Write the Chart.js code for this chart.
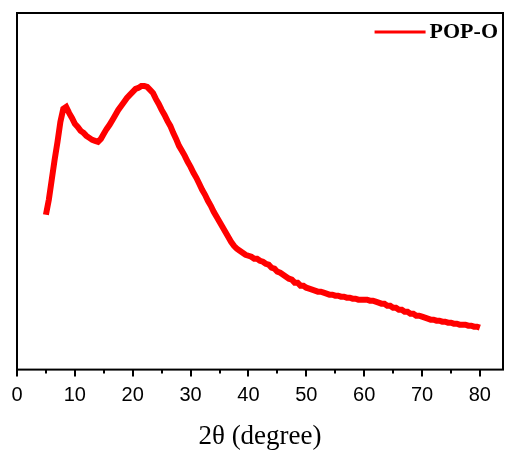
<!DOCTYPE html>
<html>
<head>
<meta charset="utf-8">
<script src="https://cdn.jsdelivr.net/npm/chart.js@4/dist/chart.umd.min.js"></script>
<style>
  html, body { margin: 0; padding: 0; background: #fff; }
  #wrap { width: 507px; height: 453px; }
</style>
</head>
<body>
<div id="wrap"><canvas id="xrd"></canvas></div>
<script>
// 2theta positions (degree)
const twoTheta = [
  5, 5.5, 6, 6.5, 7, 7.5, 8, 8.5, 9, 9.5,
  10, 10.5, 11, 11.5, 12, 12.5, 13, 13.5, 14, 14.5,
  15, 15.5, 16, 16.5, 17, 17.5, 18, 18.5, 19, 19.5,
  20, 20.5, 21, 21.5, 22, 22.5, 23, 23.5, 24, 24.5,
  25, 25.5, 26, 26.5, 27, 27.5, 28, 28.5, 29, 29.5,
  30, 30.5, 31, 31.5, 32, 32.5, 33, 33.5, 34, 34.5,
  35, 35.5, 36, 36.5, 37, 37.5, 38, 38.5, 39, 39.5,
  40, 40.5, 41, 41.5, 42, 42.5, 43, 43.5, 44, 44.5,
  45, 45.5, 46, 46.5, 47, 47.5, 48, 48.5, 49, 49.5,
  50, 50.5, 51, 51.5, 52, 52.5, 53, 53.5, 54, 54.5,
  55, 55.5, 56, 56.5, 57, 57.5, 58, 58.5, 59, 59.5,
  60, 60.5, 61, 61.5, 62, 62.5, 63, 63.5, 64, 64.5,
  65, 65.5, 66, 66.5, 67, 67.5, 68, 68.5, 69, 69.5,
  70, 70.5, 71, 71.5, 72, 72.5, 73, 73.5, 74, 74.5,
  75, 75.5, 76, 76.5, 77, 77.5, 78, 78.5, 79, 79.5,
  80
];

// intensity (a.u.)
const intensity = [
  155, 170, 190, 210, 228, 248, 261, 263, 257, 252,
  246, 243, 239, 237, 234, 232, 230, 229, 228, 231,
  236, 241, 245, 250, 255, 260, 264, 268, 272, 275,
  278, 281, 282, 284, 284, 283, 280, 277, 271, 266,
  260, 255, 249, 244, 237, 231, 224, 219, 214, 208,
  203, 197, 192, 186, 180, 175, 169, 164, 158, 153,
  148, 143, 138, 133, 128, 124, 121, 119, 117, 115,
  114, 113, 111, 111, 109, 108, 106, 105, 102, 101,
  98, 97, 95, 93, 91, 90, 87, 87, 84, 84,
  82, 81, 80, 79, 78, 78, 77, 76, 75, 75,
  74, 74, 73, 73, 72, 72, 71, 71, 70, 70,
  70, 70, 69, 69, 68, 67, 66, 66, 64, 64,
  62, 62, 60, 60, 58, 58, 56, 56, 54, 54,
  53, 52, 51, 50, 50, 49, 49, 48, 48, 47,
  47, 46, 46, 45, 45, 45, 44, 44, 43, 43,
  42
];

const xTicks = [0, 10, 20, 30, 40, 50, 60, 70, 80];
const minorTicks = [5, 15, 25, 35, 45, 55, 65, 75];
const seriesName = 'POP-O';

// box round the plot + minor ticks + legend in the top right corner
const framePlugin = {
  id: 'frame',
  afterDatasetsDraw(chart) {
    const { ctx, chartArea: a } = chart;
    const xs = chart.scales.x;
    ctx.save();
    ctx.strokeStyle = '#000';
    ctx.lineWidth = 2;
    ctx.strokeRect(a.left, a.top, a.right - a.left, a.bottom - a.top);

    ctx.beginPath();
    minorTicks.forEach(v => {
      const px = Math.round(xs.getPixelForValue(v));
      ctx.moveTo(px, a.bottom);
      ctx.lineTo(px, a.bottom + 4);
    });
    ctx.stroke();

    // legend
    const ds = chart.data.datasets[0];
    ctx.font = 'bold 22px "Liberation Serif", "Times New Roman", serif';
    ctx.textBaseline = 'middle';
    ctx.textAlign = 'right';
    const tx = a.right - 5;
    const ty = a.top + 19;
    ctx.fillStyle = '#000';
    ctx.fillText(ds.label, tx, ty);
    const tw = ctx.measureText(ds.label).width;
    ctx.strokeStyle = ds.borderColor;
    ctx.lineWidth = 3;
    ctx.beginPath();
    ctx.moveTo(tx - tw - 4, ty);
    ctx.lineTo(tx - tw - 55, ty);
    ctx.stroke();
    ctx.restore();
  }
};

new Chart(document.getElementById('xrd'), {
  type: 'line',
  data: {
    datasets: [{
      label: seriesName,
      data: twoTheta.map((t, i) => ({ x: t, y: intensity[i] })),
      borderColor: '#ff0000',
      borderWidth: 6,
      pointRadius: 0,
      tension: 0,
      fill: false
    }]
  },
  options: {
    responsive: true,
    maintainAspectRatio: false,
    animation: false,
    layout: { padding: { left: 17, top: 13, right: 4, bottom: 0 } },
    plugins: {
      legend: { display: false },
      tooltip: { enabled: false }
    },
    scales: {
      x: {
        type: 'linear',
        min: 0,
        max: 84,
        afterBuildTicks: scale => {
          scale.ticks = xTicks.map(v => ({ value: v }));
        },
        grid: {
          drawOnChartArea: false,
          drawTicks: true,
          tickLength: 7,
          color: '#000',
          lineWidth: 2
        },
        border: { display: false },
        ticks: {
          autoSkip: false,
          color: '#000',
          padding: 7,
          maxRotation: 0,
          font: { family: '"Liberation Sans", Arial, sans-serif', size: 20 }
        },
        title: {
          display: true,
          text: '2θ (degree)',
          color: '#000',
          padding: { top: 6, bottom: 0 },
          font: { family: '"Liberation Serif", "Times New Roman", serif', size: 27 }
        }
      },
      y: {
        display: false,
        min: 0,
        max: 357
      }
    }
  },
  plugins: [framePlugin]
});
</script>
</body>
</html>
